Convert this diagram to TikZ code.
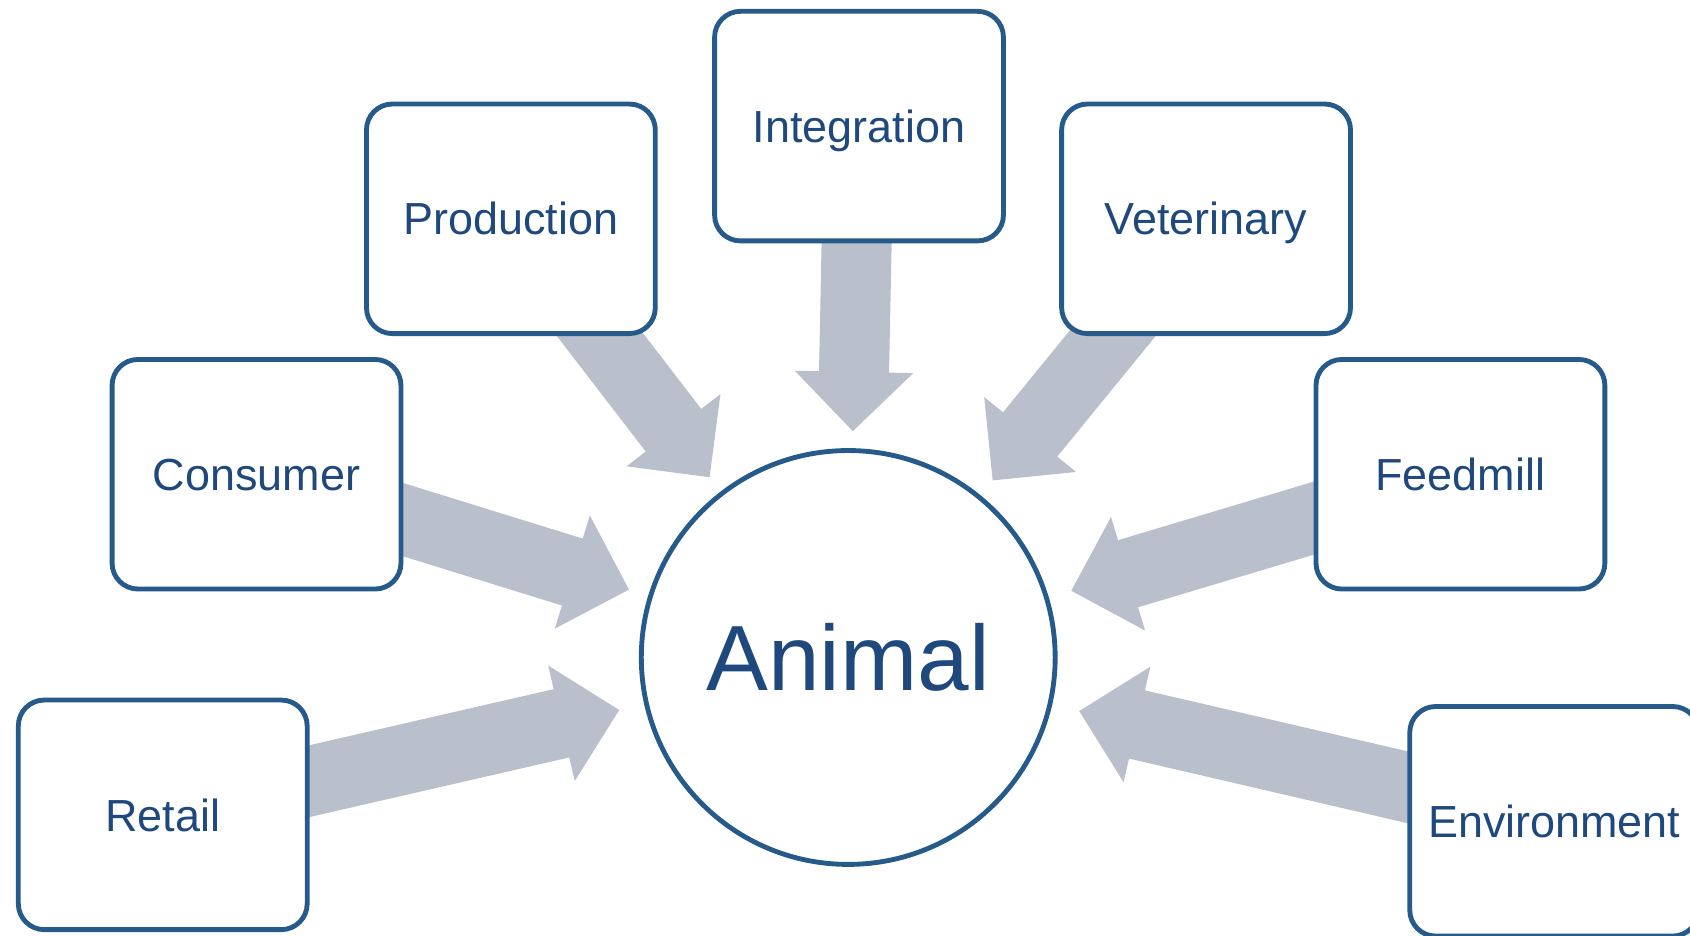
\documentclass[tikz,border=0pt]{standalone}
\usepackage{fontspec}
\setmainfont{Liberation Sans}
\usetikzlibrary{calc,backgrounds}
\definecolor{bordblue}{HTML}{255A8A}
\definecolor{txtblue}{HTML}{1F497D}
\definecolor{arrowgray}{HTML}{B9C0CC}
\newcommand\blockarrow[3][214pt]{%
  \coordinate (T) at (#2);
  \coordinate (P) at ($(#3)!#1!(#2)$);
  \coordinate (B) at ($(P)!55pt!(T)$);
  \fill[arrowgray] ($(T)!32.5pt!90:(P)$) -- ($(B)!32.5pt!-90:(T)$) -- ($(B)!55pt!-90:(T)$) -- (P)
    -- ($(B)!55pt!90:(T)$) -- ($(B)!32.5pt!90:(T)$) -- ($(T)!32.5pt!-90:(P)$) -- cycle;
}
\begin{document}
\begin{tikzpicture}[x=1pt,y=-1pt,
  boxnode/.style={draw=bordblue,line width=4.5pt,fill=white,rounded corners=24pt,
    minimum width=268pt,minimum height=213pt,inner sep=0pt,text=txtblue,
    text height=30pt,text depth=0pt,
    font=\fontsize{41.7}{50}\selectfont},
  hubnode/.style={circle,draw=bordblue,line width=4.5pt,fill=white,minimum size=384pt,
    inner sep=0pt,text=txtblue,font=\fontsize{86}{100}\selectfont}]
\useasboundingbox (0,0) rectangle (1568,868.4);
\node[hubnode] (animal) at (787,610) {Animal};
\node[boxnode] (integration) at (797,117) {Integration};
\node[boxnode] (production) at (474,203) {Production};
\node[boxnode] (veterinary) at (1119,203) {Veterinary};
\node[boxnode] (consumer) at (238,440) {Consumer};
\node[boxnode] (feedmill) at (1355,440) {Feedmill};
\node[boxnode] (retail) at (151,756) {Retail};
\node[boxnode] (environment) at (1442,762) {Environment};
\begin{scope}[on background layer]
\blockarrow[210pt]{integration}{animal}
\blockarrow[211pt]{production}{animal}
\blockarrow[212pt]{veterinary}{animal}
\blockarrow[213pt]{consumer}{animal}
\blockarrow[216pt]{feedmill}{animal}
\blockarrow[218pt]{retail}{animal}
\blockarrow[220pt]{environment}{animal}
\end{scope}
\end{tikzpicture}
\end{document}
